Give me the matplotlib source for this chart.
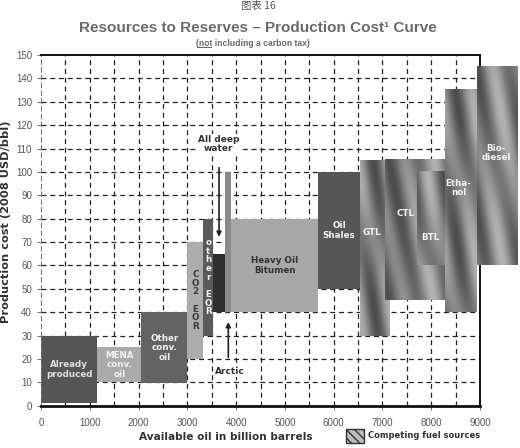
import numpy as np
import matplotlib
matplotlib.use("Agg")
import matplotlib.pyplot as plt
from matplotlib.patches import Rectangle

# ---- data ----
oil_labels = ["Already\nproduced", "MENA\nconv.\noil", "Other\nconv.\noil",
              "C\nO\n2\n\nE\nO\nR", "o\nt\nh\ne\nr\n\nE\nO\nR", "", "", "Heavy Oil\nBitumen",
              "Oil\nShales"]
oil_x0 = [0, 1150, 2060, 3000, 3330, 3530, 3770, 3900, 5680]
oil_x1 = [1150, 2060, 3000, 3330, 3530, 3770, 3900, 5680, 6540]
oil_ylo = [1, 10, 9.5, 20, 30, 40, 40, 40, 50]
oil_yhi = [30, 25, 40, 70, 80, 65, 100, 80, 100]
oil_colors = ["#555555", "#aaaaaa", "#636363", "#acacac", "#5a5a5a", "#303030", "#8a8a8a", "#a8a8a8", "#565656"]
oil_textcolors = ["#e0e0e0", "#f2f2f2", "#f2f2f2", "#3a3a3a", "#f2f2f2", "w", "w", "#333333", "#f2f2f2"]

fuel_labels = ["GTL", "CTL", "BTL", "Etha-\nnol", "Bio-\ndiesel"]
fuel_x0 = [6540, 7050, 7700, 8280, 8930]
fuel_x1 = [7150, 8280, 8280, 8930, 9760]
fuel_ylo = [30, 45, 60, 40, 60]
fuel_yhi = [105, 105, 100, 135, 145]
fuel_text_x = [6780, 7480, 7990, 8560, 9330]
fuel_text_y = [74, 82, 72, 93, 108]

x_ticks = list(range(0, 9001, 1000))
y_ticks = list(range(0, 151, 10))

# ---- figure ----
W, H = 520, 448
fig = plt.figure(figsize=(W / 100, H / 100), dpi=100)
fig.patch.set_facecolor("white")

def fx(px):
    return px / W

def fy(py):
    return 1 - py / H

ax = fig.add_axes([fx(41), fy(405.7), fx(480) - fx(41), fy(55) - fy(405.7)])
ax.set_xlim(0, 9000)
ax.set_ylim(0, 150)

for gx in np.arange(500, 9000, 500):
    ax.axvline(gx, color="#222222", lw=0.9, ls=(0, (4, 3)), zorder=0)
for gy in np.arange(10, 150, 10):
    ax.axhline(gy, color="#222222", lw=0.9, ls=(0, (4, 3)), zorder=0)

for s in ["top", "right"]:
    ax.spines[s].set_linewidth(1.4)
    ax.spines[s].set_color("#111111")
ax.spines["bottom"].set_linewidth(2.0)
ax.spines["bottom"].set_color("#111111")
ax.spines["left"].set_linewidth(0.8)
ax.spines["left"].set_color("#777777")
ax.spines["left"].set_linestyle((0, (4, 3)))

ax.set_xticks(x_ticks)
ax.set_yticks(y_ticks)
ax.tick_params(axis="both", labelsize=7, colors="#555555", length=3, width=0.6)
ax.tick_params(axis="x", pad=6)
for lab in ax.get_xticklabels() + ax.get_yticklabels():
    lab.set_fontfamily("Liberation Sans")

for lab, x0, x1, y0, y1, c, tc in zip(oil_labels, oil_x0, oil_x1, oil_ylo, oil_yhi, oil_colors, oil_textcolors):
    ax.add_patch(Rectangle((x0, y0), x1 - x0, y1 - y0, facecolor=c, edgecolor="none", zorder=2))
    if lab:
        ls = 0.95 if "\n\n" in lab else 1.05
        ax.text((x0 + x1) / 2, (y0 + y1) / 2, lab, ha="center", va="center", color=tc,
                fontsize=6.3, fontweight="bold", family="DejaVu Sans", linespacing=ls, zorder=5)

def texture(h, w, period, phase):
    r = np.arange(h)[:, None]
    c = np.arange(w)[None, :]
    u = (c - 0.22 * r) / period + phase
    v = 0.5 + 0.5 * np.cos(2 * np.pi * u)
    v2 = 0.5 + 0.5 * np.cos(2 * np.pi * (c / (w * 1.2)) + phase * 6)
    return 0.30 + 0.40 * (0.6 * v + 0.4 * v2)

phases = [0.1, 0.4, 0.7, 0.2, 0.55]
for x0, x1, y0, y1, ph in zip(fuel_x0, fuel_x1, fuel_ylo, fuel_yhi, phases):
    wpx = int((x1 - x0) * 0.0488 * 2) + 2
    hpx = int((y1 - y0) * 2.338 * 2) + 2
    img = texture(hpx, wpx, 62, ph)
    ax.imshow(img, cmap="gray", vmin=0, vmax=1, extent=(x0, x1, y0, y1), aspect="auto",
              interpolation="bilinear", zorder=3, clip_on=False)
ax.set_xlim(0, 9000)
ax.set_ylim(0, 150)

for lab, tx, ty in zip(fuel_labels, fuel_text_x, fuel_text_y):
    ax.text(tx, ty, lab, ha="center", va="center", color="#f2f2f2", fontsize=6.3,
            fontweight="bold", family="DejaVu Sans", linespacing=1.0, zorder=6, clip_on=False)

ax.text(3640, 112, "All deep\nwater", ha="center", va="center", fontsize=6.5, fontweight="bold",
        color="#333333", family="DejaVu Sans", linespacing=1.05, zorder=6,
        bbox=dict(facecolor="white", edgecolor="none", pad=0.5))
ax.annotate("", xy=(3650, 71), xytext=(3650, 103),
            arrowprops=dict(arrowstyle="-|>", color="#222222", lw=1.2, mutation_scale=7), zorder=6)
ax.text(3880, 14.5, "Arctic", ha="center", va="center", fontsize=6.5, fontweight="bold",
        color="#333333", family="DejaVu Sans", zorder=6,
        bbox=dict(facecolor="white", edgecolor="none", pad=0.5))
ax.annotate("", xy=(3840, 37), xytext=(3840, 19.5),
            arrowprops=dict(arrowstyle="-|>", color="#222222", lw=1.2, mutation_scale=7), zorder=6)

fig.text(fx(258), fy(28), "Resources to Reserves \u2013 Production Cost\u00b9 Curve", ha="center", va="center",
         fontsize=11, fontweight="bold", color="#6a6a6a", family="Liberation Sans")
fig.text(fx(253), fy(43), "(not including a carbon tax)", ha="center", va="center",
         fontsize=6.2, fontweight="bold", color="#6a6a6a", family="Liberation Sans")
fig.add_artist(plt.Line2D([fx(196.5), fx(210.5)], [fy(47.5), fy(47.5)], color="#6a6a6a", lw=0.8))

fig.text(fx(258), fy(6), "图表 16", ha="center", va="center", fontsize=7.5, color="#555555",
         family=["Noto Sans CJK SC", "DejaVu Sans"])

fig.text(fx(226), fy(437), "Available oil in billion barrels", ha="center", va="center",
         fontsize=7.6, fontweight="bold", color="#333333", family="DejaVu Sans")
fig.text(fx(6), fy(222), "Production cost (2008 USD/bbl)", ha="center", va="center", rotation=90,
         fontsize=8.2, fontweight="bold", color="#333333", family="DejaVu Sans")

sw = Rectangle((fx(346), fy(443)), fx(364) - fx(346), fy(429) - fy(443), transform=fig.transFigure,
               facecolor="#bdbdbd", edgecolor="#333333", lw=1.0, hatch="\\\\\\\\", figure=fig)
fig.patches.append(sw)
fig.text(fx(368), fy(435.5), "Competing fuel sources", ha="left", va="center", fontsize=6.0,
         fontweight="bold", color="#333333", family="DejaVu Sans")

fig.savefig("out.png", dpi=100, facecolor="white")
